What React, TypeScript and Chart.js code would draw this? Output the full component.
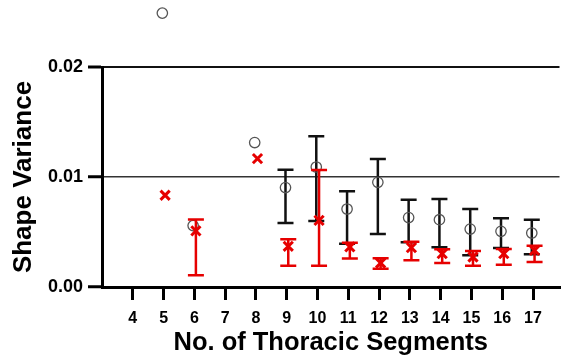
import React, { useEffect, useRef } from "react";
import { Chart, registerables } from "chart.js";

Chart.register(...registerables);

// Number of thoracic segments (x positions)
const segments = [5, 6, 8, 9, 10, 11, 12, 13, 14, 15, 16, 17];

// Series A (black open circles) with error bars
const meanA = [0.0249, 0.00558, 0.01313, 0.00904, 0.01091, 0.00709, 0.00952, 0.00631, 0.00612, 0.00527, 0.00506, 0.00491];
const lowA = [null, null, null, 0.00582, 0.006, 0.00394, 0.00482, 0.00406, 0.00361, 0.00288, 0.00355, 0.00297];
const highA = [null, null, null, 0.01067, 0.0137, 0.0087, 0.01164, 0.00794, 0.008, 0.00709, 0.00624, 0.00612];

// Series B (red crosses) with error bars
const meanB = [0.00834, 0.0051, 0.01167, 0.0037, 0.00606, 0.00364, 0.00218, 0.00358, 0.00303, 0.00273, 0.00303, 0.00333];
const lowB = [null, 0.00106, null, 0.00194, 0.00194, 0.00258, 0.00167, 0.00243, 0.00218, 0.00194, 0.00203, 0.00227];
const highB = [null, 0.00613, null, 0.00434, 0.01064, 0.00403, 0.00261, 0.00412, 0.00343, 0.00327, 0.00345, 0.00376];

// Tick labels
const xTickValues = [4, 5, 6, 7, 8, 9, 10, 11, 12, 13, 14, 15, 16, 17];
const yTickValues = [0, 0.01, 0.02];

const FONT = "'Liberation Sans', Arial, Helvetica, sans-serif";
const RED = "rgb(230,0,0)";
const BLACK = "#111";
const OFFSET_A = -0.04;
const OFFSET_B = 0.05;

const errorSets: Record<string, { low: (number | null)[]; high: (number | null)[]; offset: number; color: string }> = {
  A: { low: lowA, high: highA, offset: OFFSET_A, color: BLACK },
  B: { low: lowB, high: highB, offset: OFFSET_B, color: RED },
};

const errorBarPlugin = {
  id: "errorBars",
  beforeDatasetDraw(chart: any, args: any) {
    const ds = chart.data.datasets[args.index];
    const set = errorSets[ds.label];
    if (!set) return;
    const { ctx } = chart;
    const xs = chart.scales.x;
    const ys = chart.scales.y;
    ctx.save();
    ctx.strokeStyle = set.color;
    ctx.lineWidth = 2.5;
    ctx.lineCap = "butt";
    const half = 8;
    segments.forEach((s, i) => {
      const lo = set.low[i];
      const hi = set.high[i];
      if (lo == null || hi == null) return;
      const px = xs.getPixelForValue(s + set.offset);
      const pLo = ys.getPixelForValue(lo);
      const pHi = ys.getPixelForValue(hi);
      ctx.beginPath();
      ctx.moveTo(px, pLo);
      ctx.lineTo(px, pHi);
      ctx.moveTo(px - half, pLo);
      ctx.lineTo(px + half, pLo);
      ctx.moveTo(px - half, pHi);
      ctx.lineTo(px + half, pHi);
      ctx.stroke();
    });
    ctx.restore();
  },
};

// Chart.js skips points outside the chart area; draw those (above the 0.02 line) too
const outOfAreaPointsPlugin = {
  id: "outOfAreaPoints",
  afterDatasetsDraw(chart: any) {
    const { ctx, chartArea } = chart;
    const full = { left: 0, top: 0, right: chart.width, bottom: chart.height };
    chart.data.datasets.forEach((_: any, di: number) => {
      const meta = chart.getDatasetMeta(di);
      meta.data.forEach((el: any) => {
        const r = (el.options && el.options.radius) || 0;
        if (el.y < chartArea.top - r - 1) el.draw(ctx, full);
      });
    });
  },
};

export default function App() {
  const ref = useRef<HTMLCanvasElement>(null);

  useEffect(() => {
    if (!ref.current) return;
    const chart = new Chart(ref.current, {
      type: "scatter",
      data: {
        datasets: [
          {
            label: "B",
            data: segments.map((s, i) => ({ x: s + OFFSET_B, y: meanB[i] })),
            pointStyle: "crossRot",
            pointRadius: 6.5,
            pointHoverRadius: 6.5,
            borderColor: RED,
            backgroundColor: RED,
            borderWidth: 3,
            clip: false,
            order: 0,
          } as any,
          {
            label: "A",
            data: segments.map((s, i) => ({ x: s + OFFSET_A, y: meanA[i] })),
            pointStyle: "circle",
            pointRadius: 5.2,
            pointHoverRadius: 5.2,
            borderColor: "#555",
            backgroundColor: "rgba(0,0,0,0)",
            borderWidth: 1.3,
            clip: false,
            order: 1,
          } as any,
        ],
      },
      options: {
        animation: false,
        responsive: true,
        maintainAspectRatio: false,
        layout: { padding: { top: 67, right: 0, left: 0, bottom: 0 } },
        plugins: { legend: { display: false }, tooltip: { enabled: false } },
        scales: {
          x: {
            type: "linear",
            min: 3,
            max: 17.86,
            afterBuildTicks: (s: any) => {
              s.ticks = xTickValues.map((v) => ({ value: v }));
            },
            afterFit: (s: any) => {
              s.height = 73;
            },
            grid: { drawOnChartArea: false, drawTicks: true, tickLength: 13, color: "#000", lineWidth: 3 },
            border: { display: true, color: "#000", width: 3 },
            ticks: {
              font: { family: FONT, size: 16, weight: "bold" },
              color: "#000",
              padding: 9,
              autoSkip: false,
              maxRotation: 0,
              callback: (v: any) => String(v),
            },
            title: {
              display: true,
              text: "No. of Thoracic Segments",
              font: { family: FONT, size: 25.5, weight: "bold" },
              color: "#000",
              padding: { top: 0, bottom: 2 },
            },
          },
          y: {
            type: "linear",
            min: 0,
            max: 0.02,
            afterBuildTicks: (s: any) => {
              s.ticks = yTickValues.map((v) => ({ value: v }));
            },
            afterFit: (s: any) => {
              s.width = 102;
            },
            grid: {
              drawOnChartArea: true,
              color: (c: any) => (c.tick && c.tick.value >= 0.015 ? "#111" : "#333"),
              lineWidth: (c: any) => (c.tick && c.tick.value >= 0.015 ? 2 : 1.5),
              tickLength: 14,
              tickWidth: 3,
              tickColor: "#000",
            },
            border: { display: true, color: "#000", width: 3 },
            ticks: {
              font: { family: FONT, size: 18, weight: "bold" },
              color: "#000",
              padding: 5,
              callback: (v: any) => Number(v).toFixed(2),
            },
            title: {
              display: true,
              text: "Shape Variance",
              font: { family: FONT, size: 26, weight: "bold" },
              color: "#000",
              padding: { top: 8, bottom: 0 },
            },
          },
        },
      },
      plugins: [errorBarPlugin, outOfAreaPointsPlugin],
    } as any);
    return () => chart.destroy();
  }, []);

  return (
    <div style={{ position: "fixed", left: 0, top: 0, width: 569, height: 360, background: "#fff" }}>
      <canvas ref={ref} />
    </div>
  );
}
